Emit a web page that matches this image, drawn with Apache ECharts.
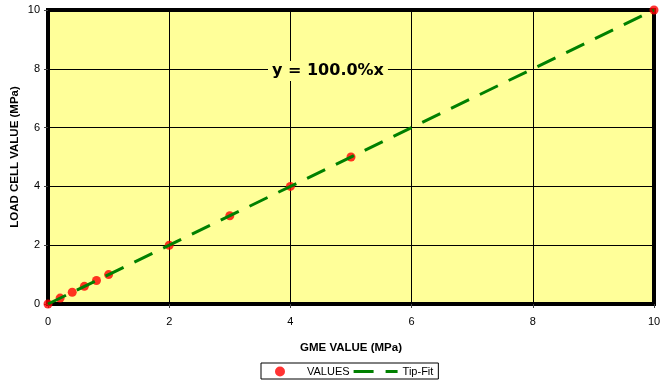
<!DOCTYPE html>
<html>
<head>
<meta charset="utf-8">
<script src="https://cdn.jsdelivr.net/npm/echarts@6/dist/echarts.min.js"></script>
<style>
html,body{margin:0;padding:0;background:#fff;}
#chart{width:660px;height:386px;}
</style>
</head>
<body>
<div id="chart"></div>
<script>
// Measured points: GME value vs load cell value (MPa)
const gmeValues = [0, 0.2, 0.4, 0.6, 0.8, 1, 2, 3, 4, 5, 10];
const loadCellValues = [0, 0.2, 0.4, 0.6, 0.8, 1, 2, 3, 4, 5, 10];
// Tip-fit line end points (slope 100%)
const fitX = [0, 10];
const fitY = [0, 10];
const axisTicks = [0, 2, 4, 6, 8, 10];
const fitLabel = 'y = 100.0%x';

const font = 'Arial, "Liberation Sans", sans-serif';
const chart = echarts.init(document.getElementById('chart'), null, {renderer: 'canvas'});

chart.setOption({
  animation: false,
  backgroundColor: '#ffffff',
  title: {
    text: fitLabel,
    left: 268,
    top: 61,
    padding: [2, 4],
    backgroundColor: '#FFFF99',
    textStyle: {fontFamily: '"DejaVu Sans", sans-serif', fontSize: 16, fontWeight: 'bold', color: '#000'}
  },
  grid: {
    left: 48, right: 6, top: 10, bottom: 82,
    containLabel: false,
    outerBoundsMode: 'none',
    show: true,
    backgroundColor: '#FFFF99',
    borderColor: '#000',
    borderWidth: 4
  },
  legend: {
    left: 261, top: 363,
    padding: [3, 5, 2, 14],
    itemGap: 4,
    borderColor: '#000',
    borderWidth: 1,
    borderRadius: 0,
    textStyle: {fontFamily: font, fontSize: 11, color: '#000'},
    data: [
      {name: 'VALUES', icon: 'circle', itemStyle: {color: '#ff0000'}},
      {name: 'Tip-Fit', icon: 'path://M0,0H20V3H0Z M32,0H44V3H32Z', itemStyle: {color: '#008000'}}
    ],
    itemWidth: 44,
    itemHeight: 10
  },
  xAxis: {
    type: 'value',
    min: axisTicks[0], max: axisTicks[axisTicks.length - 1], interval: 2,
    name: 'GME VALUE (MPa)',
    nameLocation: 'middle',
    nameGap: 38,
    nameMoveOverlap: false,
    nameTextStyle: {fontFamily: font, fontSize: 11.5, fontWeight: 'bold', color: '#000'},
    axisLine: {show: false},
    axisTick: {show: true, length: 4, lineStyle: {color: '#444'}},
    axisLabel: {fontFamily: font, fontSize: 11, color: '#000', margin: 12},
    splitLine: {show: true, lineStyle: {color: '#000', width: 1}}
  },
  yAxis: {
    type: 'value',
    min: axisTicks[0], max: axisTicks[axisTicks.length - 1], interval: 2,
    name: 'LOAD CELL VALUE (MPa)',
    nameLocation: 'middle',
    nameGap: 27,
    nameMoveOverlap: false,
    nameTextStyle: {fontFamily: font, fontSize: 11.5, fontWeight: 'bold', color: '#000'},
    axisLine: {show: false},
    axisTick: {show: true, length: 4, lineStyle: {color: '#444'}},
    axisLabel: {fontFamily: font, fontSize: 11, color: '#000', margin: 8},
    splitLine: {show: true, lineStyle: {color: '#000', width: 1}}
  },
  series: [
    {
      name: 'VALUES',
      type: 'scatter',
      symbol: 'circle',
      symbolSize: 9,
      clip: false,
      itemStyle: {color: '#ff0000'},
      data: gmeValues.map((x, i) => [x, loadCellValues[i]]),
      z: 3
    },
    {
      name: 'Tip-Fit',
      type: 'line',
      symbol: 'none',
      clip: false,
      lineStyle: {color: '#008000', width: 3, type: [20, 12]},
      itemStyle: {color: '#008000'},
      data: fitX.map((x, i) => [x, fitY[i]]),
      z: 4
    }
  ]
});
</script>
</body>
</html>
